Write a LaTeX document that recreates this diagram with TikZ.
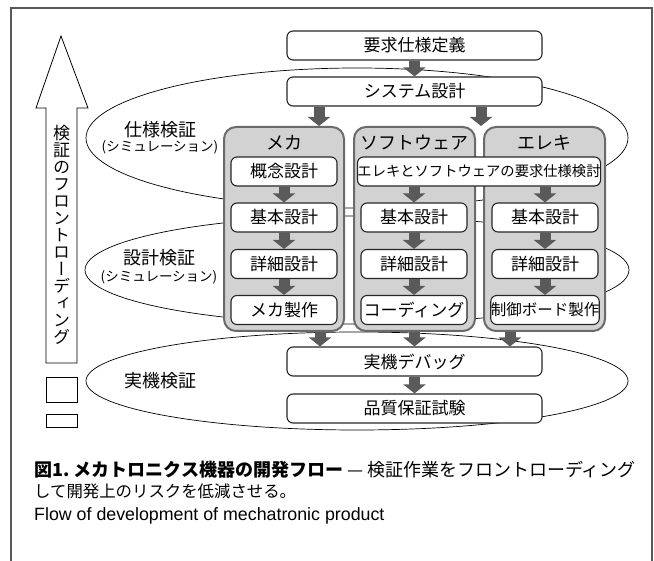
\documentclass[tikz,border=0pt]{standalone}
\usepackage{fontspec}
\setmainfont{Noto Sans CJK JP}
\newfontfamily\jpv[RawFeature=+vert]{Noto Sans CJK JP}
\newfontfamily\enfont{Liberation Sans}
\usetikzlibrary{arrows.meta,calc}
\definecolor{arrgray}{HTML}{5A5A5A}
\definecolor{panelfill}{HTML}{D2D2D2}
\definecolor{panelline}{HTML}{6A6A6A}
\begin{document}
\begin{tikzpicture}[x=1pt,y=-1pt,
  box/.style={draw=black!85, line width=1.1pt, rounded corners=6pt, fill=white, inner sep=0pt,
              minimum height=29pt, font=\fontsize{17}{17}\selectfont},
  panel/.style={draw=panelline, line width=2pt, rounded corners=12pt, fill=panelfill,
                minimum height=204pt, inner sep=0pt},
  ptitle/.style={font=\fontsize{18}{18}\selectfont, inner sep=0pt},
  blk/.style={draw=arrgray, line width=11pt, -{Triangle[width=22pt,length=9pt]}},
  ell/.style={draw=black, line width=0.7pt},
  elab/.style={font=\fontsize{18}{18}\selectfont, inner sep=0pt},
  esub/.style={font=\fontsize{13.5}{13.5}\selectfont, inner sep=0pt},
]
\useasboundingbox (0,0) rectangle (654,561);
% frame
\draw[line width=1.2pt, black!65] (11,561) -- (11,8) -- (652,8) -- (652,561);

% ellipses (behind)
\draw[ell] (357,138) ellipse [x radius=271pt, y radius=70pt];
\draw[ell] (357,270) ellipse [x radius=272pt, y radius=54pt];
\draw[ell] (357,381) ellipse [x radius=271pt, y radius=49pt];

% big front-loading arrow
\draw[line width=0.8pt, fill=white] (46,363) -- (46,108) -- (36,108) -- (61,36) -- (88,108) -- (77,108) -- (77,363) -- cycle;
\node[font=\jpv\fontsize{17}{17}\selectfont, align=center, inner sep=0pt] (vtext) at (61.5,235)
  {検\\証\\の\\フ\\ロ\\ン\\ト\\ロ\\ー\\デ\\ィ\\ン\\グ};
\node[draw, line width=0.8pt, minimum width=31pt, minimum height=25pt, inner sep=0pt] (sq1) at (61.5,389.5) {};
\node[draw, line width=0.8pt, minimum width=31pt, minimum height=13pt, inner sep=0pt] (sq2) at (61.5,420.5) {};

% top boxes
\node[box, minimum width=255pt] (req) at (414.5,45.5) {要求仕様定義};
\node[box, minimum width=255pt] (sys) at (414.5,91.5) {システム設計};

% panels
\node[panel, minimum width=120pt] (mech) at (284,229) {};
\node[panel, minimum width=121pt] (soft) at (414.5,229) {};
\node[panel, minimum width=121pt] (elec) at (544.5,229) {};
\node[ptitle] (tmech) at (284,143) {メカ};
\node[ptitle] (tsoft) at (414.5,143) {ソフトウェア};
\node[ptitle] (telec) at (544.5,143) {エレキ};

% mech column
\node[box, minimum width=106pt] (m1) at (284,171.5) {概念設計};
\node[box, minimum width=106pt] (m2) at (284,217.5) {基本設計};
\node[box, minimum width=106pt] (m3) at (284,264) {詳細設計};
\node[box, minimum width=106pt] (m4) at (284,310) {メカ製作};
% software / electrical
\node[box, minimum width=236pt, font=\fontsize{14.3}{14.3}\selectfont] (se) at (479,171.5) {エレキとソフトウェアの要求仕様検討};
\node[box, minimum width=106pt] (s2) at (414,217.5) {基本設計};
\node[box, minimum width=106pt] (s3) at (414,264) {詳細設計};
\node[box, minimum width=106pt] (s4) at (414,310) {コーディング};
\node[box, minimum width=106pt] (e2) at (545,217.5) {基本設計};
\node[box, minimum width=106pt] (e3) at (545,264) {詳細設計};
\node[box, minimum width=106pt, font=\fontsize{15.5}{15.5}\selectfont] (e4) at (545,310) {制御ボード製作};

% bottom boxes
\node[box, minimum width=255pt] (dbg) at (414.5,361.5) {実機デバッグ};
\node[box, minimum width=255pt] (qa) at (414.5,408.5) {品質保証試験};

% arrow anchor coordinates
\coordinate (xa) at (319,0);
\coordinate (xb) at (481,0);
\coordinate (xc) at (320,0);
\coordinate (xd) at (414.5,0);
\coordinate (xe) at (510,0);

% block arrows
\draw[blk] (req.south) -- (sys.north);
\draw[blk] (sys.south -| xa) -- (mech.north -| xa);
\draw[blk] (sys.south -| xb) -- (soft.north -| xb);
\draw[blk] (m1.south) -- (m2.north);
\draw[blk] (m2.south) -- (m3.north);
\draw[blk] (m3.south) -- (m4.north);
\draw[blk] (se.south -| s2) -- (s2.north);
\draw[blk] (s2.south) -- (s3.north);
\draw[blk] (s3.south) -- (s4.north);
\draw[blk] (se.south -| e2) -- (e2.north);
\draw[blk] (e2.south) -- (e3.north);
\draw[blk] (e3.south) -- (e4.north);
\draw[blk] (mech.south -| xc) -- (dbg.north -| xc);
\draw[blk] (soft.south -| xd) -- (dbg.north -| xd);
\draw[blk] (elec.south -| xe) -- (dbg.north -| xe);
\draw[blk] (dbg.south) -- (qa.north);

% ellipse labels
\node[elab] (l1) at (160,130) {仕様検証};
\node[esub] (l1b) at (160,147) {(シミュレーション)};
\node[elab] (l2) at (159,258) {設計検証};
\node[esub] (l2b) at (159,277) {(シミュレーション)};
\node[elab] (l3) at (160,381) {実機検証};

% caption
\node[anchor=west, inner sep=0pt, font=\fontsize{18}{18}\selectfont] (cap1) at (34,470)
  {{\bfseries 図1.\ メカトロニクス機器の開発フロー} — 検証作業をフロントローディング};
\node[anchor=west, inner sep=0pt, font=\fontsize{16.4}{16.4}\selectfont] (cap2) at (34,491)
  {して開発上のリスクを低減させる。};
\node[anchor=west, inner sep=0pt, font=\enfont\fontsize{17.8}{17.8}\selectfont] (cap3) at (34,516)
  {Flow of development of mechatronic product};
\end{tikzpicture}
\end{document}
